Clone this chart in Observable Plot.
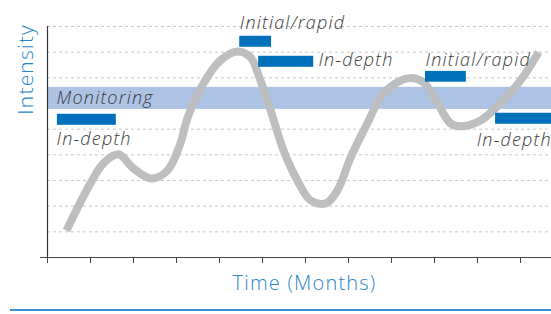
<!DOCTYPE html>
<html>
<head>
<meta charset="utf-8">
<script src="https://cdn.jsdelivr.net/npm/d3@7"></script>
<script src="https://cdn.jsdelivr.net/npm/@observablehq/plot@0.6"></script>
<style>
  html, body { margin: 0; padding: 0; background: #fff; }
  #chart svg { display: block; }
</style>
</head>
<body>
<div id="chart"></div>
<script>
// Intensity curve (time in months, intensity)
const curveX = [0.44, 1.00, 1.30, 1.65, 2.00, 2.42, 2.79, 3.09, 3.26, 3.63, 4.02, 4.42, 4.72, 4.95, 5.19, 5.49, 5.81, 6.12, 6.47, 6.74, 7.05, 7.44, 7.81, 8.37, 8.74, 9.07, 9.37, 9.60, 10.07, 10.53, 11.00, 11.42];
const curveY = [1.05, 2.89, 3.67, 4.02, 3.47, 3.08, 3.39, 4.45, 5.46, 6.79, 7.68, 8.03, 7.80, 6.90, 5.73, 4.17, 3.00, 2.22, 2.11, 2.61, 3.90, 5.23, 6.40, 6.98, 6.83, 6.01, 5.23, 5.11, 5.34, 6.01, 6.90, 8.00];

// Assessment bars
const barLabels = ["In-depth", "Initial/rapid", "In-depth", "Initial/rapid", "In-depth"];
const barStart  = [0.23, 4.47, 4.91, 8.79, 10.42];
const barEnd    = [1.60, 5.21, 6.19, 9.74, 11.72];
const barLow    = [5.15, 8.19, 7.41, 6.83, 5.19];
const barHigh   = [5.58, 8.62, 7.84, 7.25, 5.62];
const labelX    = [0.21, 4.47, 6.30, 8.79, 9.98];
const labelY    = [4.59, 9.12, 7.69, 7.69, 4.56];

// Monitoring band
const bandName = "Monitoring";
const bandLow = 5.77, bandHigh = 6.63;
const bandLabelX = 0.21, bandLabelY = 6.22;

// Axes
const xTicks = d3.range(0, 12);
const gridValues = d3.range(1, 10);
const xMin = -0.1628, xMax = 11.72;
const yLabel = "Intensity";
const xLabel = "Time (Months)";

const curve = curveX.map((x, i) => ({x, y: curveY[i]}));
const bars = barLabels.map((label, i) => ({label, x1: barStart[i], x2: barEnd[i], y1: barLow[i], y2: barHigh[i], lx: labelX[i], ly: labelY[i]}));

const FONT = "'Open Sans', Lato, sans-serif";
const BLUE_TEXT = "#2a86c8";

const plot = Plot.plot({
  width: 551,
  height: 314,
  marginLeft: 40,
  marginRight: 0,
  marginTop: 26,
  marginBottom: 57,
  style: {fontFamily: FONT, background: "#fff", overflow: "visible", letterSpacing: "1.2px"},
  x: {domain: [xMin, xMax], axis: null},
  y: {domain: [0, 9], axis: null},
  marks: [
    Plot.ruleY(gridValues, {x1: 0, x2: xMax, stroke: "#c8c8c8", strokeDasharray: "3,3", strokeWidth: 1}),
    Plot.rect([{y1: bandLow, y2: bandHigh}], {x1: 0, x2: xMax, y1: "y1", y2: "y2", fill: "#adc3e3"}),
    Plot.line(curve, {x: "x", y: "y", curve: "catmull-rom", stroke: "#bdbec0", strokeWidth: 8, strokeLinecap: "butt"}),
    Plot.rect(bars, {x1: "x1", x2: "x2", y1: "y1", y2: "y2", fill: "#0070bb"}),
    Plot.text(bars, {x: "lx", y: "ly", text: "label", textAnchor: "start", fontSize: 18, fontStyle: "italic", fontWeight: 300, fill: "#3a3a3a"}),
    Plot.text([bandName], {x: bandLabelX, y: bandLabelY, textAnchor: "start", fontSize: 18, fontStyle: "italic", fontWeight: 300, fill: "#3a3a3a"}),
    Plot.ruleX([0], {y1: 0, y2: 9, stroke: "#333", strokeWidth: 1.2}),
    Plot.ruleY([0], {stroke: "#444", strokeWidth: 1.2}),
    Plot.axisX({ticks: xTicks, tickSize: 6, tickFormat: () => "", label: null, stroke: "#444"}),
    Plot.text([yLabel], {x: -0.488, y: 7.33, rotate: -90, fontSize: 21, fontWeight: 300, fill: BLUE_TEXT}),
    Plot.text([xLabel], {x: 5.977, y: -1.026, fontSize: 20, fontWeight: 300, fill: BLUE_TEXT}),
    Plot.ruleY([-2.05], {x1: -0.86, x2: xMax, stroke: "#3d8fd0", strokeWidth: 2})
  ]
});
document.getElementById("chart").appendChild(plot);
</script>
</body>
</html>
